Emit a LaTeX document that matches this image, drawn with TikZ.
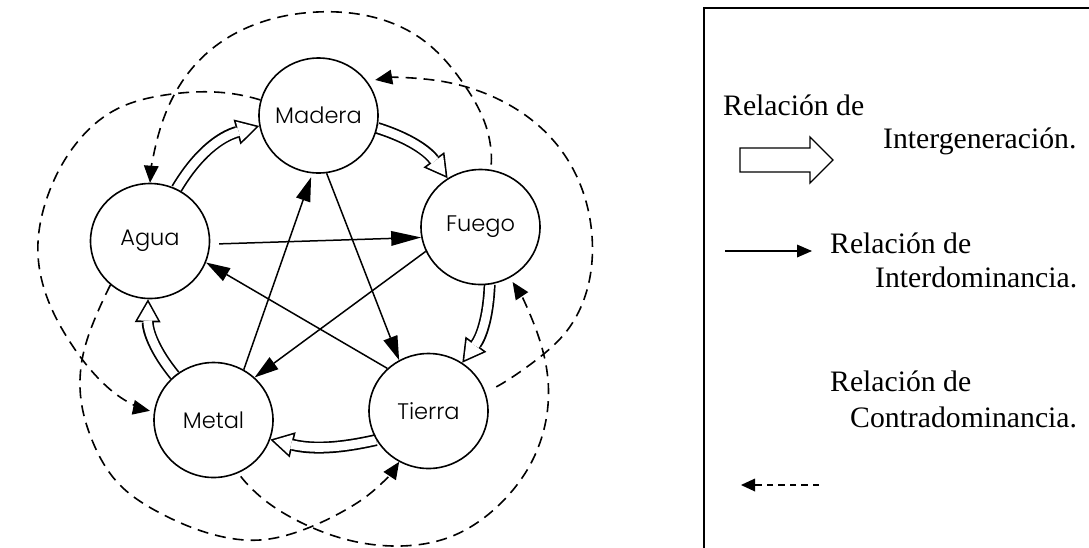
\documentclass[tikz,border=0pt]{standalone}
\usepackage{fontspec}
\setmainfont{Liberation Serif}
\IfFontExistsTF{Poppins Light}
  {\newfontfamily\elemfont{Poppins Light}}
  {\newfontfamily\elemfont{Poppins}}
\usetikzlibrary{arrows.meta,shapes.geometric,backgrounds,hobby}

\tikzset{
  element/.style={ellipse, draw, line width=1.6pt, fill=white,
    minimum width=119pt, minimum height=115pt, inner sep=0pt},
  elemlabel/.style={inner sep=0pt, font=\elemfont\fontsize{22.5}{22.5}\selectfont},
  dominance/.style={line width=1.5pt,
    -{Triangle[length=24pt,width=15pt,line width=0pt]}},
  contra/.style={line width=1.6pt, dash pattern=on 11pt off 7pt,
    -{Triangle[length=17pt,width=15pt,line width=0pt]}},
  genouter/.style={line width=12pt,
    -{Triangle[length=23pt,width=26pt,line width=0pt]}},
  geninner/.style={line width=8.6pt, white, shorten >=3.3pt,
    -{Triangle[length=18pt,width=20.4pt,line width=0pt]}},
  legendtext/.style={anchor=base west, inner sep=0pt,
    font=\fontsize{29.7}{30}\selectfont},
}

\begin{document}
\begin{tikzpicture}[x=1pt, y=-1pt]
\useasboundingbox (0,0) rectangle (1089,547);

% the five elements
\node[element, label={[elemlabel]center:Madera}] (Madera) at (318.5,115.5) {};
\node[element, label={[elemlabel]center:Fuego}]  (Fuego)  at (480.5,227) {};
\node[element, label={[elemlabel]center:Agua}]   (Agua)   at (150,241) {};
\node[element, label={[elemlabel]center:Metal}]  (Metal)  at (213.5,420) {};
\node[element, label={[elemlabel]center:Tierra}] (Tierra) at (428.5,411) {};

\begin{scope}[on background layer]
  % generation cycle: hollow double arrows
  \foreach \a/\b/\o/\i/\bnd in {Agua/Madera/63/190/22, Madera/Fuego/-12/124/18,
      Fuego/Tierra/-81/55/17, Tierra/Metal/209/-19.5/13, Metal/Agua/131/-92/20}
  {
    \draw[genouter] (\a.\o) to[bend left=\bnd] (\b.\i);
    \draw[geninner] (\a.\o) to[bend left=\bnd] (\b.\i);
  }

  % dominance: the inner star
  \draw[dominance, shorten <=9pt,
    -{Triangle[length=30pt,width=15pt,line width=0pt]}] (Agua.-3) -- (Fuego.190);
  \draw[dominance] (Madera.-82) -- (Tierra.120);
  \draw[dominance, shorten >=4pt] (Metal.59) -- (Madera.-96);
  \draw[dominance] (Fuego.204) -- (Metal.46);
  \draw[dominance] (Tierra.134) -- (Agua.-21);

  % counter-dominance: dashed outer curves
  \draw[contra, shorten <=5pt] (Fuego.80) to[curve through={(488,133) .. (463,83)
      .. (423,40) .. (317,12) .. (207,53) .. (173,97) .. (157,140)}] (Agua.90);
  \draw[contra, shorten <=12pt, shorten >=8pt] (Tierra.18) to[curve through={(540,357)
      .. (566,332) .. (587,290) .. (592,236) .. (582,189) .. (553,140) .. (500,100)
      .. (440,81)}] (Madera.35);
  \draw[contra, shorten >=4pt] (Madera.165) to[curve through={(227,93) .. (165,95)
      .. (115,110) .. (75,145) .. (48,195) .. (38,255) .. (48,300) .. (70,342)
      .. (100,380) .. (128,402)}] (Metal.172);
  \draw[contra, shorten <=4pt, shorten >=5pt] (Metal.-65) to[curve through={(262,498)
      .. (300,522) .. (357,542) .. (400,546) .. (450,537) .. (500,504) .. (530,465)
      .. (546,420) .. (548,380) .. (538,335)}] (Fuego.-60);
  \draw[contra] (Agua.228) to[curve through={(96,316) .. (83,355) .. (81,400)
      .. (92,440) .. (118,483) .. (160,513) .. (215,535) .. (260,540) .. (300,531)
      .. (340,513) .. (372,492)}] (Tierra.240);
\end{scope}

% legend frame (open to the right and bottom)
\draw[line width=1.4pt] (1095,8) -- (704,8) -- (704,552);

% legend: generation
\node[legendtext] (lgA) at (723,115) {Relación de};
\draw[line width=1.3pt, line join=miter] (740,148) -- (810,148) -- (810,137)
  -- (833,160) -- (810,183) -- (810,172) -- (740,172) -- cycle;
\node[legendtext] (lgB) at (883,148) {Intergeneración.};

% legend: dominance
\draw[line width=1.3pt, -{Triangle[length=15pt,width=13pt,line width=0pt]}]
  (725,251) -- (812,251);
\node[legendtext] (lgC) at (830,253) {Relación de};
\node[legendtext] (lgD) at (875,287) {Interdominancia.};

% legend: counter-dominance
\node[legendtext] (lgE) at (830,391) {Relación de};
\node[legendtext] (lgF) at (850,427) {Contradominancia.};
\draw[line width=1.1pt, dash pattern=on 6.5pt off 5pt,
  -{Triangle[length=14pt,width=13pt,line width=0pt]}] (819,485) -- (741,485);
\end{tikzpicture}
\end{document}
